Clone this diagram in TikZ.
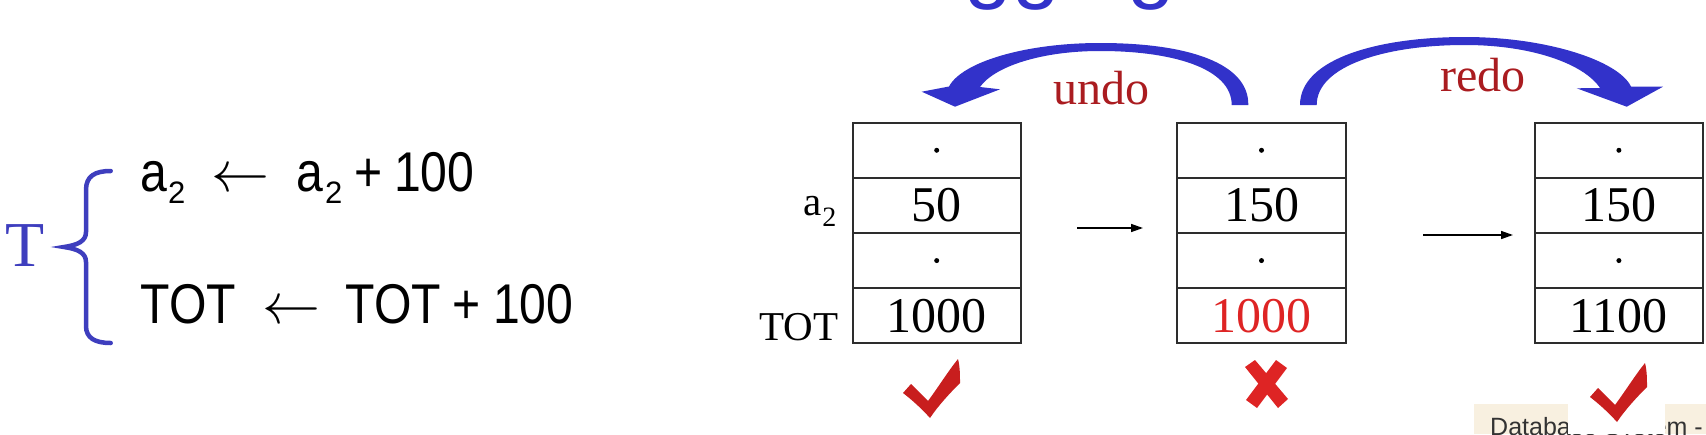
\documentclass[tikz,border=0pt]{standalone}
\usepackage{graphicx}
\usepackage{fontspec}
\setmainfont{Liberation Serif}
\newfontfamily\sansn[FakeStretch=0.86]{Liberation Sans}
\newfontfamily\sansf{Liberation Sans}
\usetikzlibrary{arrows.meta}
\definecolor{tblue}{RGB}{62,62,190}
\definecolor{abblue}{RGB}{50,50,202}
\definecolor{udred}{RGB}{170,28,32}
\definecolor{vred}{RGB}{222,36,36}
\definecolor{ckred}{RGB}{200,30,30}
\definecolor{boxline}{RGB}{45,45,45}
\definecolor{beige}{RGB}{248,240,224}
\newcommand{\fsz}[1]{\fontsize{#1}{#1}\selectfont}
\newcommand{\bigleft}{\scalebox{5.8}{$\leftarrow$}}
\begin{document}
\begin{tikzpicture}[x=1pt,y=-1pt,
  cell/.style={draw=boxline,line width=2pt,minimum width=168.3pt,minimum height=55.15pt,inner sep=0pt,outer sep=0pt},
  num/.style={inner sep=0pt,font=\fsz{50}},
  lbl/.style={inner sep=0pt,font=\fsz{41}},
  ltxt/.style={inner sep=0pt,anchor=base west,font=\sansn\fsz{56}},
  lsub/.style={inner sep=0pt,anchor=base west,font=\sansf\fsz{31}},
  larr/.style={inner sep=0pt,anchor=base},
  flowarrow/.style={draw=black,line width=1.5pt,-{Triangle[length=12pt,width=8pt]}},
  dotc/.style={fill=black,circle,inner sep=0pt,minimum size=5pt},
  udtext/.style={inner sep=0pt,anchor=base,font=\fsz{48},text=udred}
]
\useasboundingbox (0,0) rectangle (1706,434);
\clip (0,0) rectangle (1706,434);

% cut-off title
\node[anchor=base west,inner sep=0pt,font=\sansf\fsz{86},text=abblue] (title) at (869,-7.4) {Logging};

% left: transaction
\node[inner sep=0pt,anchor=base west,font=\fsz{64},text=tblue] (T) at (5.6,266.7) {T};
\draw[tblue,line width=4.5pt,line cap=round]
  (110.7,171) .. controls (95,171) and (86,176) .. (86,190) -- (86,232)
  .. controls (86,241) and (78,245) .. (64,247)
  .. controls (78,249) and (86,253) .. (86,262) -- (86,326)
  .. controls (86,338) and (95,343) .. (110.7,343);

\node[ltxt] (l1a) at (140,191.7) {a};
\node[lsub] (l1s) at (168,203.3) {2};
\node[larr] (l1arr) at (240,191.7) {\bigleft};
\node[ltxt] (l1b) at (296,191.7) {a};
\node[lsub] (l1bs) at (325,203.3) {2};
\node[ltxt] (l1p) at (354.3,191.7) {+};
\node[ltxt] (l1n) at (394,191.7) {100};

\node[ltxt] (l2a) at (140.6,323.3) {TOT};
\node[larr] (l2arr) at (291,323.3) {\bigleft};
\node[ltxt] (l2b) at (345.6,323.3) {TOT};
\node[ltxt] (l2p) at (452.6,323.3) {+};
\node[ltxt] (l2n) at (493,323.3) {100};

% boxes
\foreach \b/\x in {1/936.7,2/1261.5,3/1618.9}{
  \node[cell] (b\b r1) at (\x,150.275) {};
  \node[cell] (b\b r2) at (\x,205.425) {};
  \node[cell] (b\b r3) at (\x,260.575) {};
  \node[cell] (b\b r4) at (\x,315.725) {};
  \node[dotc] (d\b a) at (b\b r1) {};
  \node[dotc] (d\b b) at (b\b r3) {};
}
\node[num] (v12) at (b1r2) {50};
\node[num] (v14) at (b1r4) {1000};
\node[num] (v22) at (b2r2) {150};
\node[num,text=vred] (v24) at (b2r4) {1000};
\node[num] (v32) at (b3r2) {150};
\node[num] (v34) at (b3r4) {1100};

% row labels
\node[lbl,anchor=base east] (la2) at (822,215) {a};
\node[inner sep=0pt,anchor=base west,font=\fsz{28}] (la2s) at (822.2,226) {2};
\node[lbl,anchor=base east] (ltot) at (838.5,340) {TOT};

% thin arrows between states
\coordinate (a1s) at (1077,228);
\coordinate (a1e) at (1143,228);
\coordinate (a2s) at (1423,235);
\coordinate (a2e) at (1513,235);
\draw[flowarrow] (a1s) -- (a1e);
\draw[flowarrow] (a2s) -- (a2e);

% undo arrow
\fill[abblue] (1248.3,105) .. controls (1249,64) and (1190,43) .. (1100,43)
  .. controls (1025,43) and (962,62) .. (949,86.5)
  -- (921.7,91.7) -- (955,106.7) -- (1000,89.3) -- (980,87)
  .. controls (994,67) and (1040,51) .. (1100,51)
  .. controls (1172,51) and (1231.7,68) .. (1231.7,105) -- cycle;
\node[udtext] (undo) at (1101,104) {undo};

% redo arrow
\fill[abblue] (1300,105) .. controls (1300,58) and (1380,37) .. (1465,37)
  .. controls (1545,37) and (1618,60) .. (1631,86.5)
  -- (1663,86.7) -- (1626.7,106.7) -- (1576.7,88.3) -- (1600,88)
  .. controls (1584,64) and (1532,45) .. (1465,45)
  .. controls (1385,45) and (1316.7,66) .. (1316.7,105) -- cycle;
\node[udtext] (redo) at (1483.3,91) {redo};

% footer fragment
\fill[beige] (1474,404) rectangle (1706,434);
\node[anchor=base west,inner sep=0pt,font=\sansf\fsz{25},text=black!80] (footer) at (1490,435) {Database System -};
\fill[white] (1568,402) rectangle (1665,434);

% check marks and cross
\begin{scope}[shift={(903,358)}]
\fill[ckred] (8,26) -- (25,43) .. controls (36,28) and (46,12) .. (55,1)
  .. controls (57,9) and (57,17) .. (57,25)
  .. controls (46,36) and (35,48) .. (27,60)
  .. controls (18,50) and (9,42) .. (0,35) -- cycle;
\end{scope}
\begin{scope}[shift={(1590,362)}]
\fill[ckred] (8,26) -- (25,43) .. controls (36,28) and (46,12) .. (55,1)
  .. controls (57,9) and (57,17) .. (57,25)
  .. controls (46,36) and (35,48) .. (27,60)
  .. controls (18,50) and (9,42) .. (0,35) -- cycle;
\end{scope}
\fill[vred] (1245,367) -- (1255,360) -- (1288,399) -- (1278,408) -- cycle;
\fill[vred] (1276,360) -- (1287,368) -- (1257,408) -- (1246,400) -- cycle;
\end{tikzpicture}
\end{document}
